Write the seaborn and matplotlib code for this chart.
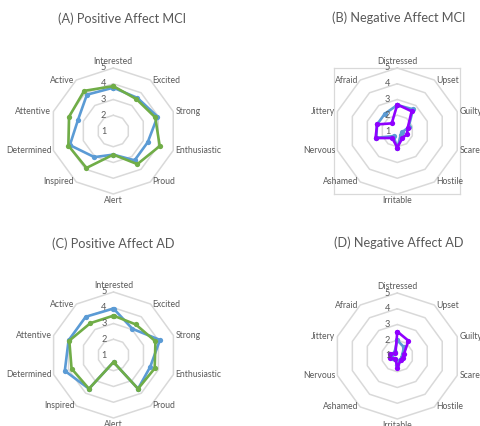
import numpy as np
import pandas as pd
import matplotlib
matplotlib.use("Agg")
import matplotlib.pyplot as plt
import seaborn as sns

# PANAS item order around each radar (clockwise from the top)
pos_items = ["Interested", "Excited", "Strong", "Enthusiastic", "Proud",
             "Alert", "Inspired", "Determined", "Attentive", "Active"]
neg_items = ["Distressed", "Upset", "Guilty", "Scared", "Hostile",
             "Irritable", "Ashamed", "Nervous", "Jittery", "Afraid"]

# Mean item scores (1-5 scale)
mci_pos_a = [3.75, 3.6, 3.95, 3.3, 3.3, 2.5, 3.05, 3.9, 3.35, 3.85]
mci_pos_b = [3.85, 3.5, 3.8, 4.1, 3.6, 2.5, 3.9, 4.0, 3.95, 4.15]
mci_neg_a = [2.65, 2.7, 1.75, 1.3, 1.35, 2.1, 1.4, 2.4, 2.35, 2.35]
mci_neg_b = [2.68, 2.55, 1.7, 1.65, 1.55, 2.05, 1.55, 2.45, 2.35, 1.6]
ad_pos_a = [3.95, 3.05, 4.1, 3.45, 3.65, 1.45, 3.65, 4.25, 4.0, 4.0]
ad_pos_b = [3.5, 3.4, 3.8, 3.75, 3.65, 1.45, 3.65, 3.8, 3.95, 3.5]
ad_neg_a = [2.0, 1.7, 1.35, 1.3, 1.3, 1.55, 1.25, 1.35, 1.35, 1.3]
ad_neg_b = [2.55, 2.2, 1.45, 1.35, 1.35, 1.75, 1.2, 1.5, 1.5, 1.2]

scale_ticks = [1, 2, 3, 4, 5]

sns.set_style("white")
plt.rcParams["font.family"] = ["Lato", "DejaVu Sans"]

W, H = 480, 426
fig = plt.figure(figsize=(W / 100, H / 100), dpi=100)

TEXT = "#595959"
GRID = "#D9D9D9"
BLUE = "#5B9BD5"
GREEN = "#70AD47"
PURPLE = "#8F00FF"
RADIUS_PX = 63
PT = 0.72  # points per pixel at 100 dpi


def radar(cx, cy, items, series, title, title_xy, framed=False):
    rect = [(cx - RADIUS_PX) / W, 1 - (cy + RADIUS_PX) / H,
            2 * RADIUS_PX / W, 2 * RADIUS_PX / H]
    if framed:
        frame = fig.add_axes(rect, zorder=0)
        frame.set_xticks([])
        frame.set_yticks([])
        frame.set_facecolor("none")
        for s in frame.spines.values():
            s.set_color(GRID)
            s.set_linewidth(0.9)
    ax = fig.add_axes(rect, projection="polar", zorder=1)
    ax.set_theta_zero_location("N")
    ax.set_theta_direction(-1)
    n = len(items)
    theta = np.linspace(0, 2 * np.pi, n, endpoint=False)
    closed = np.append(theta, theta[0] + 2 * np.pi)

    # decagonal grid rings
    for ring in scale_ticks[1:]:
        ax.plot(closed, [ring] * (n + 1), color=GRID, lw=1.1,
                zorder=1, clip_on=False)

    for values, color in series:
        df = pd.DataFrame({"theta": closed,
                           "score": list(values) + [values[0]]})
        sns.lineplot(data=df, x="theta", y="score", sort=False,
                     estimator=None, color=color, lw=1.9, marker="o",
                     markersize=3.8, markeredgewidth=0, ax=ax, zorder=3,
                     clip_on=False)

    ax.set_ylim(scale_ticks[0], scale_ticks[-1])
    ax.set_xticks([])
    ax.set_yticks([])
    ax.grid(False)
    ax.spines["polar"].set_visible(False)
    ax.set_xlabel("")
    ax.set_ylabel("")
    ax.set_facecolor("none")

    rmax = scale_ticks[-1]
    for t, name in zip(theta, items):
        s, c = np.sin(t), np.cos(t)
        if abs(s) < 1e-6:
            if c > 0:
                off, ha, va = (0, 2 * PT), "center", "bottom"
            else:
                off, ha, va = (0, -2 * PT), "center", "top"
        elif s > 0:
            off, ha, va = (2 * PT, 0), "left", "center"
        else:
            off, ha, va = (-2 * PT, 0), "right", "center"
        ax.annotate(name, xy=(t, rmax), xytext=off, textcoords="offset points",
                    ha=ha, va=va, fontsize=6.2, color=TEXT,
                    annotation_clip=False)

    for k in scale_ticks:
        ax.annotate(str(k), xy=(0, k), xytext=(-7 * PT, 0),
                    textcoords="offset points", ha="right", va="center",
                    fontsize=6.6, color=TEXT, annotation_clip=False)

    fig.text(title_xy[0] / W, 1 - title_xy[1] / H, title, ha="center",
             va="center", fontsize=9.2, color=TEXT)


radar(113.3, 131, pos_items, [(mci_pos_a, BLUE), (mci_pos_b, GREEN)],
      "(A) Positive Affect MCI", (122.5, 18.3))
radar(397.3, 131, neg_items, [(mci_neg_a, BLUE), (mci_neg_b, PURPLE)],
      "(B) Negative Affect MCI", (398.5, 17.3), framed=True)
radar(113.5, 355, pos_items, [(ad_pos_a, BLUE), (ad_pos_b, GREEN)],
      "(C) Positive Affect AD", (113.3, 243.7))
radar(397.3, 356, neg_items, [(ad_neg_a, BLUE), (ad_neg_b, PURPLE)],
      "(D) Negative Affect AD", (398.3, 243.0))

fig.savefig("out.png", dpi=100, facecolor="white")
